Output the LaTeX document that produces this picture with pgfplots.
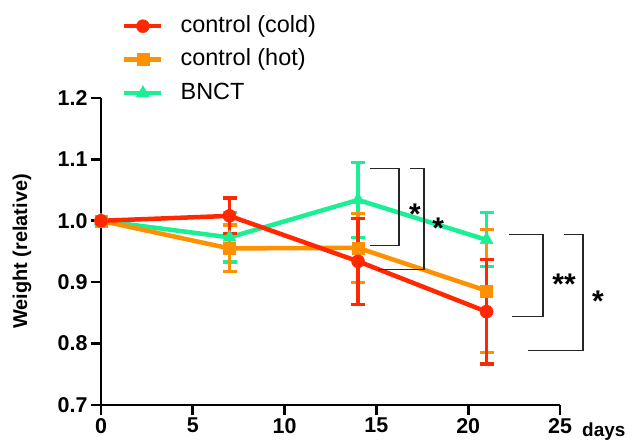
\documentclass[border=0pt]{standalone}
\usepackage{pgfplots}
\pgfplotsset{compat=1.18}
\usepackage{fontspec}
\setmainfont{Liberation Sans}
\definecolor{cold}{RGB}{255,40,0}
\definecolor{hot}{RGB}{255,145,0}
\definecolor{bnct}{RGB}{25,240,150}

\begin{document}
\begin{tikzpicture}
\useasboundingbox (-101bp,-36bp) rectangle (534bp,405bp);
\begin{axis}[
  scale only axis, width=459bp, height=307bp,
  xmin=0, xmax=25, ymin=0.7, ymax=1.2,
  xtick={0,5,10,15,20,25},
  ytick={0.7,0.8,0.9,1.0,1.1,1.2},
  /pgf/number format/assume math mode=true,
  yticklabel style={/pgf/number format/.cd, fixed, fixed zerofill, precision=1},
  ticklabel style={font=\bfseries\fontsize{21.5}{24}\selectfont},
  xticklabel style={yshift=-2bp, inner sep=1bp},
  axis lines=left,
  axis line style={-, line width=2.6bp, black},
  major tick style={line width=2.6bp, black},
  tick align=outside, major tick length=10bp,
  clip=false,
  xlabel={days},
  xlabel style={at={(axis description cs:1.048,0)}, anchor=base west, yshift=-31bp, inner sep=0pt,
    font=\bfseries\fontsize{19}{22}\selectfont},
  ylabel={Weight (relative)},
  ylabel style={at={(axis description cs:-0.172,0.5)}, anchor=center,
    font=\bfseries\fontsize{20}{24}\selectfont},
  reverse legend,
  legend cell align=left,
  legend style={draw=none, fill=none, anchor=north west,
    at={(axis description cs:0,1)}, xshift=21bp, yshift=83bp,
    inner sep=0pt, row sep=11.5bp, column sep=17bp,
    nodes={inner sep=0pt, text height=17bp, text depth=5bp,
      font=\fontsize{23.5}{28}\selectfont}},
  legend image code/.code={\draw[mark repeat=2, mark phase=2, #1]
    plot coordinates {(0bp,0bp) (18.5bp,0bp) (37bp,0bp)};},
  every axis plot/.append style={line width=4.5bp},
]

% BNCT
\addplot[bnct, mark=triangle*, mark size=7.5bp, mark options={solid, line width=0.5bp},
  error bars/.cd, y dir=both, y explicit,
  error bar style={line width=3.3bp},
  error mark options={rotate=90, mark size=7bp, line width=3.3bp}]
  coordinates {(0,1.000) +- (0,0) (7,0.973) +- (0,0.040) (14,1.034) +- (0,0.061) (21,0.969) +- (0,0.044)};
\addlegendentry{BNCT}

% control (hot)
\addplot[hot, mark=square*, mark size=6bp, mark options={solid, line width=0.5bp},
  error bars/.cd, y dir=both, y explicit,
  error bar style={line width=3.3bp},
  error mark options={rotate=90, mark size=7bp, line width=3.3bp}]
  coordinates {(0,1.000) +- (0,0) (7,0.955) +- (0,0.038) (14,0.956) +- (0,0.056) (21,0.886) +- (0,0.100)};
\addlegendentry{control (hot)}

% control (cold)
\addplot[cold, mark=*, mark size=6.5bp, mark options={solid, line width=0.5bp},
  error bars/.cd, y dir=both, y explicit,
  error bar style={line width=3.3bp},
  error mark options={rotate=90, mark size=7bp, line width=3.3bp}]
  coordinates {(0,1.000) +- (0,0) (7,1.008) +- (0,0.029) (14,0.934) +- (0,0.070) (21,0.852) +- (0,0.085)};
\addlegendentry{control (cold)}

% significance brackets
\draw[line width=1.3bp, black!85]
  (axis cs:14.65,1.0847) -- (axis cs:16.23,1.0847) -- (axis cs:16.23,0.9593) -- (axis cs:14.65,0.9593);
\draw[line width=1.3bp, black!85]
  (axis cs:16.83,1.0847) -- (axis cs:17.59,1.0847) -- (axis cs:17.59,0.9202) -- (axis cs:15.09,0.9202);
\draw[line width=1.3bp, black!85]
  (axis cs:22.22,0.9772) -- (axis cs:24.07,0.9772) -- (axis cs:24.07,0.8436) -- (axis cs:22.39,0.8436);
\draw[line width=1.3bp, black!85]
  (axis cs:25.22,0.9772) -- (axis cs:26.25,0.9772) -- (axis cs:26.25,0.7883) -- (axis cs:23.26,0.7883);

\node[anchor=base, inner sep=0pt, yshift=-17bp, font=\bfseries\fontsize{30}{30}\selectfont]
  at (axis cs:17.10,1.0212) {*};
\node[anchor=base, inner sep=0pt, yshift=-17bp, font=\bfseries\fontsize{30}{30}\selectfont]
  at (axis cs:18.36,0.9984) {*};
\node[anchor=base, inner sep=0pt, yshift=-17bp, font=\bfseries\fontsize{30}{30}\selectfont]
  at (axis cs:25.22,0.9072) {**};
\node[anchor=base, inner sep=0pt, yshift=-17bp, font=\bfseries\fontsize{30}{30}\selectfont]
  at (axis cs:27.07,0.8795) {*};
\end{axis}
\end{tikzpicture}
\end{document}
